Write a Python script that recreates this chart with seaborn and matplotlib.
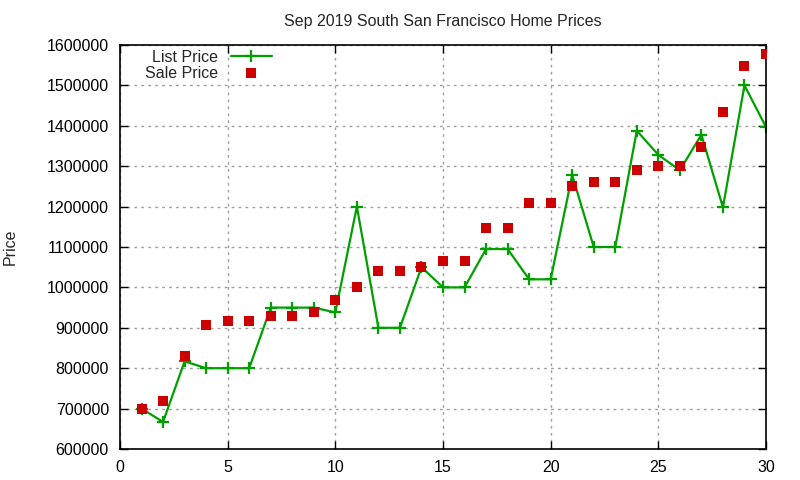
import pandas as pd
import seaborn as sns
import matplotlib
matplotlib.use("Agg")
import matplotlib.pyplot as plt

# data
days = list(range(1, 31))
list_price = [700000, 667000, 817000, 800000, 800000, 800000, 950000, 950000, 950000, 938000,
              1200000, 900000, 900000, 1050000, 1000000, 1000000, 1095000, 1095000, 1020000, 1020000,
              1278000, 1100000, 1100000, 1388000, 1328000, 1290000, 1378000, 1198000, 1500000, 1397000]
sale_price = [700000, 718000, 830000, 908000, 918000, 918000, 928000, 928000, 938000, 968000,
              1000000, 1040000, 1040000, 1050000, 1065000, 1065000, 1148000, 1148000, 1208000, 1208000,
              1250000, 1260000, 1260000, 1290000, 1300000, 1300000, 1348000, 1433000, 1549000, 1578000]

df = pd.DataFrame({"day": days, "List Price": list_price, "Sale Price": sale_price})

sns.set_style("ticks")
plt.rcParams["font.family"] = ["Liberation Sans", "DejaVu Sans"]

fig = plt.figure(figsize=(8, 4.8), dpi=100)
ax = fig.add_axes([120 / 800, 1 - 449 / 480, (766 - 120) / 800, (449 - 45) / 480])

sns.lineplot(data=df, x="day", y="List Price", ax=ax, color="#00a000", linewidth=1.6,
             marker="+", markersize=8, markeredgewidth=1.6, markeredgecolor="#00a000",
             label="List Price")
sns.scatterplot(data=df, x="day", y="Sale Price", ax=ax, color="#cc0000", marker="s",
                s=50, linewidth=0, label="Sale Price", zorder=3)

ax.set_xlim(0, 30)
ax.set_ylim(600000, 1600000)
ax.set_xticks(range(0, 31, 5))
ax.set_yticks(range(600000, 1600001, 100000))
ax.ticklabel_format(style="plain", axis="y", useOffset=False)
ax.grid(True, color="#a0a0a0", linestyle=(0, (2, 3)), linewidth=1)
ax.tick_params(direction="in", length=6, width=1, top=True, right=True,
               labelsize=11.5, colors="black", pad=8)
for s in ax.spines.values():
    s.set_visible(True)
    s.set_color("black")
    s.set_linewidth(1.2)

ax.set_xlabel("")
ax.set_ylabel("Price", fontsize=11.5)
ax.yaxis.set_label_coords(-0.158, 0.5)
ax.set_title("Sep 2019 South San Francisco Home Prices", fontsize=11.5, pad=14)

ax.legend(loc="upper left", markerfirst=False, frameon=False, fontsize=11.5,
          handlelength=2.6, borderaxespad=0.1, labelspacing=0.05,
          bbox_to_anchor=(0.026, 1.008))

fig.savefig("out.png", dpi=100)
